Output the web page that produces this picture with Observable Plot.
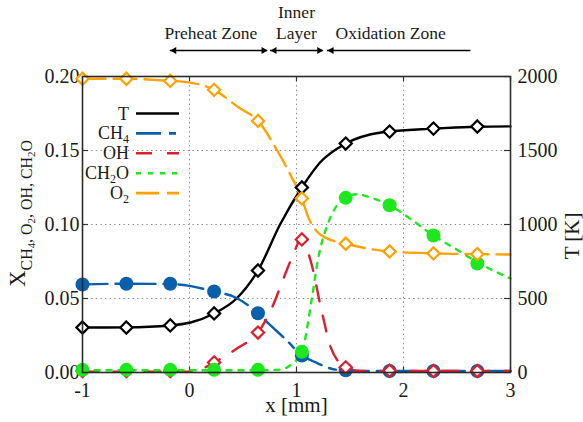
<!DOCTYPE html>
<html>
<head>
<meta charset="utf-8">
<script src="https://cdn.jsdelivr.net/npm/d3@7"></script>
<script src="https://cdn.jsdelivr.net/npm/@observablehq/plot@0.6"></script>
<style>
  html, body { margin: 0; padding: 0; background: #fff; }
  #chart svg { display: block; }
</style>
</head>
<body>
<div id="chart"></div>
<script>
// 2000 K on the right axis corresponds to 0.20 on the left axis
const TSCALE = 10000;

// Axis ticks
const xTicks = [-1, 0, 1, 2, 3];
const xGrid = [0, 1, 2];
const yTicks = [0, 0.05, 0.10, 0.15, 0.20];
const yGrid = [0.05, 0.10, 0.15];
const tTicks = [0, 500, 1000, 1500, 2000];

// Symbol positions along the flame [mm] and values there
const markerX    = [-1, -0.59, -0.18, 0.23, 0.64, 1.05, 1.46, 1.87, 2.28, 2.69];
const markerT    = [304, 304, 318, 399, 689, 1250, 1547, 1628, 1648, 1662];
const markerCH4  = [0.0595, 0.060, 0.060, 0.0547, 0.040, 0.0115, 0.0015, 0.001, 0.001, 0.001];
const markerOH   = [0.001, 0.001, 0.001, 0.0068, 0.027, 0.0899, 0.0035, 0.0012, 0.001, 0.001];
const markerCH2O = [0.0018, 0.0018, 0.0018, 0.0018, 0.0018, 0.014, 0.118, 0.113, 0.0926, 0.0736];
const markerO2   = [0.1985, 0.1985, 0.197, 0.191, 0.170, 0.1176, 0.087, 0.0818, 0.0805, 0.080];

// Continuous profiles
const tX    = [-1, -0.59, -0.18, 0.01, 0.23, 0.44, 0.64, 0.85, 1.05, 1.22, 1.46, 1.79, 2.28, 2.69, 3];
const tVal  = [304, 305, 318, 338, 399, 500, 689, 1005, 1250, 1419, 1547, 1622, 1648, 1660, 1663];
const ch4X  = [-1, -0.59, -0.18, 0.0, 0.23, 0.43, 0.64, 0.74, 0.91, 1.05, 1.18, 1.32, 1.46, 1.7, 3];
const ch4Val = [0.0595, 0.060, 0.0598, 0.0585, 0.0547, 0.0507, 0.040, 0.033, 0.0216, 0.0115, 0.0068, 0.0027, 0.0012, 0.001, 0.001];
const ohX   = [-1, 0.0, 0.1, 0.23, 0.45, 0.64, 0.79, 0.87, 0.96, 1.05, 1.13, 1.24, 1.32, 1.46, 1.6, 3];
const ohVal = [0.0005, 0.0005, 0.002, 0.0068, 0.0165, 0.027, 0.047, 0.062, 0.078, 0.0905, 0.076, 0.040, 0.017, 0.0035, 0.001, 0.001];
const ch2oX = [-1, 0.64, 0.85, 0.96, 1.05, 1.15, 1.2, 1.29, 1.38, 1.46, 1.57, 1.7, 1.87, 2.08, 2.28, 2.5, 2.69, 3];
const ch2oVal = [0.0015, 0.0015, 0.002, 0.006, 0.014, 0.053, 0.076, 0.100, 0.113, 0.118, 0.1205, 0.118, 0.113, 0.103, 0.0926, 0.083, 0.0745, 0.0635];
const o2X   = [-1, -0.59, -0.18, -0.06, 0.23, 0.46, 0.64, 0.82, 0.94, 1.05, 1.11, 1.2, 1.29, 1.46, 1.87, 2.28, 2.69, 3];
const o2Val = [0.1985, 0.1985, 0.197, 0.1965, 0.191, 0.179, 0.170, 0.150, 0.134, 0.1176, 0.105, 0.0946, 0.0905, 0.087, 0.0818, 0.0805, 0.080, 0.0797];

// Flame zones shown above the frame
const zoneNames  = ["Preheat Zone", "Inner\nLayer", "Oxidation Zone"];
const zoneLabelX = [0.2, 1.0, 1.88];
const zoneFrom   = [-0.18, 0.757, 1.29];
const zoneTo     = [0.73, 1.25, 2.63];
const zoneLeftHead  = [true, true, true];
const zoneRightHead = [true, true, false];

// Series appearance (drawing order: later ones on top)
const styles = [
  {key: "T",    label: [["T"]],                       color: "#000000", dash: null,         symbol: "diamond2"},
  {key: "CH4",  label: [["CH"], ["4", 1]],            color: "#0a5fad", dash: "25,8,7,8",   symbol: "circle"},
  {key: "OH",   label: [["OH"]],                      color: "#dc1f2e", dash: "16,15",      symbol: "diamond2"},
  {key: "CH2O", label: [["CH"], ["2", 1], ["O"]],     color: "#1de81d", dash: "5,7",        symbol: "circle"},
  {key: "O2",   label: [["O"], ["2", 1]],             color: "#ffa200", dash: "23,8",       symbol: "diamond2"}
];

const curves = {
  T:    tX.map((x, i) => ({x, y: tVal[i] / TSCALE})),
  CH4:  ch4X.map((x, i) => ({x, y: ch4Val[i]})),
  OH:   ohX.map((x, i) => ({x, y: ohVal[i]})),
  CH2O: ch2oX.map((x, i) => ({x, y: ch2oVal[i]})),
  O2:   o2X.map((x, i) => ({x, y: o2Val[i]}))
};
const markers = {
  T:    markerX.map((x, i) => ({x, y: markerT[i] / TSCALE})),
  CH4:  markerX.map((x, i) => ({x, y: markerCH4[i]})),
  OH:   markerX.map((x, i) => ({x, y: markerOH[i]})),
  CH2O: markerX.map((x, i) => ({x, y: markerCH2O[i]})),
  O2:   markerX.map((x, i) => ({x, y: markerO2[i]}))
};

const zones = zoneNames.map((name, i) => ({name, labelX: zoneLabelX[i], from: zoneFrom[i], to: zoneTo[i]}));
const leftHeads = zones.filter((z, i) => zoneLeftHead[i]).map(z => z.from);
const rightHeads = zones.filter((z, i) => zoneRightHead[i]).map(z => z.to);

const W = 583, H = 422;
const M = {top: 76, right: 73, bottom: 50, left: 82};
const frameW = W - M.left - M.right;
const frameH = H - M.top - M.bottom;
const yTop = yTicks[yTicks.length - 1];
const serif = "Liberation Serif";
const ink = "#1a1a1a";

const lineMarks = styles.map(s => Plot.line(curves[s.key], {
  x: "x", y: "y", stroke: s.color, strokeWidth: 2.4,
  strokeDasharray: s.dash, curve: "monotone-x"
}));
const dotMarks = styles.map(s => s.symbol === "circle"
  ? Plot.dot(markers[s.key], {x: "x", y: "y", r: 7, fill: s.color, symbol: "circle"})
  : Plot.dot(markers[s.key], {x: "x", y: "y", r: 5.5, symbol: "diamond2", stroke: s.color, fill: "white", strokeWidth: 2.2}));

const axisText = {fontFamily: serif, fontSize: 20, fill: ink, label: null, tickSize: 0};

const chart = Plot.plot({
  width: W, height: H,
  marginTop: M.top, marginRight: M.right, marginBottom: M.bottom, marginLeft: M.left,
  style: {fontFamily: serif, fontSize: "20px", color: ink, background: "white"},
  x: {domain: [-1, 3]},
  y: {domain: [0, yTop]},
  marks: [
    Plot.gridX(xGrid, {stroke: "#8a8a8a", strokeOpacity: 1, strokeDasharray: "1.4,3.2"}),
    Plot.gridY(yGrid, {stroke: "#8a8a8a", strokeOpacity: 1, strokeDasharray: "1.4,3.2"}),
    // inward ticks on all four sides
    Plot.tickY(yTicks, {y: d => d, insetRight: frameW - 6, stroke: "#333", strokeWidth: 1.2}),
    Plot.tickY(tTicks.map(t => t / TSCALE), {y: d => d, insetLeft: frameW - 6, stroke: "#333", strokeWidth: 1.2}),
    Plot.tickX(xTicks, {x: d => d, insetTop: frameH - 5, stroke: "#333", strokeWidth: 1.2}),
    Plot.tickX(xTicks, {x: d => d, insetBottom: frameH - 5, stroke: "#333", strokeWidth: 1.2}),
    Plot.axisX(xTicks, {...axisText, tickPadding: 10, tickFormat: d => String(d)}),
    Plot.axisY(yTicks, {...axisText, anchor: "left", tickPadding: 3, tickFormat: d3.format(".2f")}),
    Plot.axisY(tTicks.map(t => t / TSCALE), {...axisText, anchor: "right", tickPadding: 7,
      tickFormat: d => String(Math.round(d * TSCALE))}),
    ...lineMarks,
    ...dotMarks,
    Plot.frame({stroke: "#2a2a2a", strokeWidth: 1.6}),
    // axis titles
    Plot.text(["x [mm]"], {text: d => d, frameAnchor: "bottom", dy: 39, fontSize: 21, fontFamily: serif, fill: ink}),
    Plot.text(["T [K]"], {text: d => d, frameAnchor: "right", rotate: -90, dx: 62, dy: -12, fontSize: 21, fontFamily: serif, fill: ink}),
    // zone annotations above the frame
    Plot.text(zones, {x: "labelX", text: "name", frameAnchor: "top", lineAnchor: "bottom",
      dy: -38, fontSize: 17.5, lineHeight: 1.15, fontFamily: serif, fill: ink}),
    Plot.ruleY(zones, {y: () => yTop, x1: "from", x2: "to", dy: -26, stroke: "#000", strokeWidth: 1.6}),
    Plot.dot(leftHeads, {x: d => d, y: () => yTop, dy: -26, dx: 4, symbol: "triangle", rotate: -90,
      r: 2.6, fill: "#000", stroke: "none"}),
    Plot.dot(rightHeads, {x: d => d, y: () => yTop, dy: -26, dx: -4, symbol: "triangle", rotate: 90,
      r: 2.6, fill: "#000", stroke: "none"})
  ]
});

document.getElementById("chart").appendChild(chart);

// Legend and left axis title need chemical subscripts, so they are built as tspans
const svg = d3.select(chart);
const legend = svg.append("g").attr("font-family", serif).attr("fill", ink);
styles.forEach((s, i) => {
  const cy = 113.5 + i * 19.9;
  const t = legend.append("text")
    .attr("x", 129).attr("y", cy + 6)
    .attr("text-anchor", "end").attr("font-size", 18);
  let lowered = false;
  s.label.forEach(([str, sub]) => {
    const dy = sub ? 3.5 : (lowered ? -3.5 : 0);
    const sp = t.append("tspan").attr("dy", dy).text(str);
    if (sub) sp.attr("font-size", 12);
    lowered = !!sub;
  });
  legend.append("line")
    .attr("x1", 136).attr("x2", 179).attr("y1", cy).attr("y2", cy)
    .attr("stroke", s.color).attr("stroke-width", 2.6)
    .attr("stroke-dasharray", s.dash);
});

// Left axis title, stretched along its baseline to span the frame like the original figure
const ylab = svg.append("text")
  .attr("font-family", serif).attr("fill", ink)
  .attr("text-anchor", "start")
  .attr("textLength", 147).attr("lengthAdjust", "spacingAndGlyphs")
  .attr("transform", "translate(25,287) rotate(-90)");
ylab.append("tspan").attr("font-size", 23).text("X");
const subParts = [["CH", 0], ["4", 1], [", O", 0], ["2", 1], [", OH, CH", 0], ["2", 1], ["O", 0]];
let level = 0;
subParts.forEach(([str, d], i) => {
  const dy = i === 0 ? 7 : (d ? 3 : (level ? -3 : 0));
  ylab.append("tspan").attr("font-size", d ? 11 : 16).attr("dy", dy).text(str);
  level = d;
});
</script>
</body>
</html>
